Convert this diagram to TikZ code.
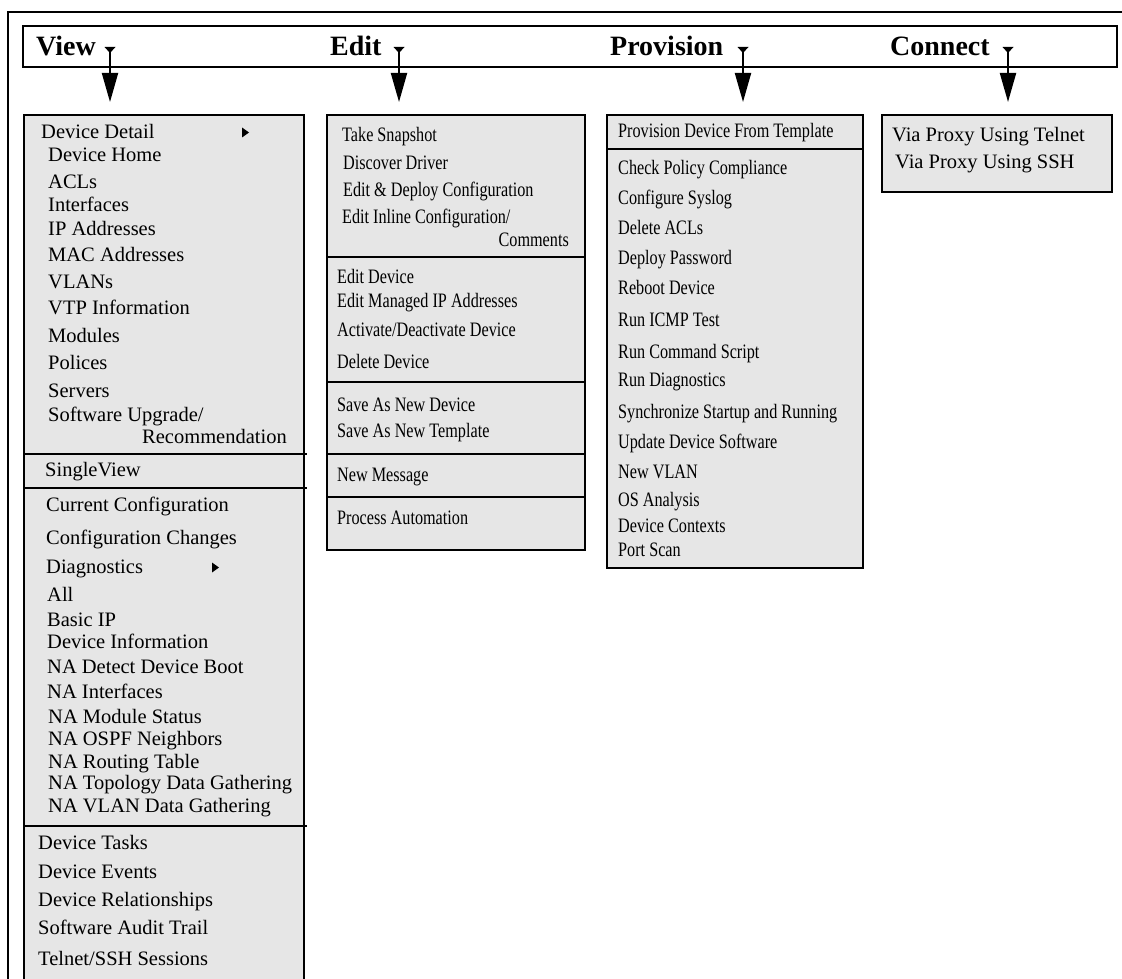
\documentclass[tikz,border=0pt]{standalone}
\usepackage{fontspec}
\setmainfont{Liberation Serif}
\newfontfamily\condfont{Liberation Serif}[FakeStretch=0.79]
\usetikzlibrary{arrows.meta}
\definecolor{menugray}{RGB}{230,230,230}
\begin{document}
\begin{tikzpicture}[x=1pt,y=-1pt,
  frame/.style={line width=2pt},
  bar/.style={draw,line width=2pt,anchor=north west,inner sep=0pt,outer sep=0pt},
  menu/.style={draw,line width=2pt,fill=menugray,anchor=north west,inner sep=0pt,outer sep=0pt},
  sepline/.style={line width=2pt},
  hdr/.style={anchor=base west,inner sep=0pt,font=\bfseries\fontsize{28}{30}\selectfont},
  item/.style={anchor=base west,inner sep=0pt,font=\fontsize{20.5}{24}\selectfont},
  itemr/.style={anchor=base east,inner sep=0pt,font=\fontsize{20.5}{24}\selectfont},
  citem/.style={anchor=base west,inner sep=0pt,font=\condfont\fontsize{20.5}{24}\selectfont},
  citemr/.style={anchor=base east,inner sep=0pt,font=\condfont\fontsize{20.5}{24}\selectfont},
  conn/.style={line width=2pt,-{Triangle[length=29pt,width=16pt]},shorten >=13pt},
  marker/.style={fill=black}
]
\useasboundingbox (0,0) rectangle (1122,979);
\clip (0,0) rectangle (1122,979);
\fill[white] (0,0) rectangle (1122,979);

% outer frame
\draw[frame] (8,1000) -- (8,12) -- (1140,12);

% menu bar
\node[bar,minimum width=1094pt,minimum height=41pt] (bar) at (23,26) {};
\node[hdr] (hview) at (36,56) {View};
\node[hdr] (hedit) at (330,56) {Edit};
\node[hdr] (hprov) at (610,56) {Provision};
\node[hdr] (hconn) at (890,56) {Connect};

% small drop-down markers
\coordinate (tv) at (110,52);
\coordinate (te) at (399,52);
\coordinate (tp) at (743,52);
\coordinate (tc) at (1008,52);
\foreach \c in {tv,te,tp,tc}{
  \fill[marker] (\c) ++(-5.5,-5) -- ++(11,0) -- ++(-5.5,6) -- cycle;
}

% menu boxes
\node[menu,minimum width=280pt,minimum height=880pt] (vbox) at (24,115) {};
\node[menu,minimum width=258pt,minimum height=435pt] (ebox) at (327,115) {};
\node[menu,minimum width=256pt,minimum height=453pt] (pbox) at (607,115) {};
\node[menu,minimum width=230pt,minimum height=77pt] (cbox) at (882,115) {};

% connectors
\draw[conn] (tv) -- (tv |- vbox.north);
\draw[conn] (te) -- (te |- ebox.north);
\draw[conn] (tp) -- (tp |- pbox.north);
\draw[conn] (tc) -- (tc |- cbox.north);

% separators
\foreach \yy in {454,488,826}{ \draw[sepline] (24,\yy) -- (307,\yy); }
\foreach \yy in {257,382,454,497}{ \draw[sepline] (327,\yy) -- (585,\yy); }
\draw[sepline] (607,149) -- (863,149);

% View items
\node[item] (v1) at (41,138.5) {Device Detail};
\fill[marker] (242,127.5) -- (242,137.5) -- (249,132.5) -- cycle;
\node[item] (v2) at (48,161.5) {Device Home};
\node[item] (v3) at (48,188.5) {ACLs};
\node[item] (v4) at (48,211.5) {Interfaces};
\node[item] (v5) at (48,235.5) {IP Addresses};
\node[item] (v6) at (48,261.5) {MAC Addresses};
\node[item] (v7) at (48,288.5) {VLANs};
\node[item] (v8) at (48,314.5) {VTP Information};
\node[item] (v9) at (48,342.5) {Modules};
\node[item] (v10) at (48,369.5) {Polices};
\node[item] (v11) at (48,397.5) {Servers};
\node[item] (v12) at (48,421.5) {Software Upgrade/};
\node[itemr] (v13) at (287,443.5) {Recommendation};
\node[item] (v14) at (45,476.5) {SingleView};
\node[item] (v15) at (46,511.5) {Current Configuration};
\node[item] (v16) at (46,544.5) {Configuration Changes};
\node[item] (v17) at (46,573.5) {Diagnostics};
\fill[marker] (212,562.5) -- (212,572.5) -- (219,567.5) -- cycle;
\node[item] (v18) at (47,601.5) {All};
\node[item] (v19) at (47,626.5) {Basic IP};
\node[item] (v20) at (47,648.5) {Device Information};
\node[item] (v21) at (47,673.5) {NA Detect Device Boot};
\node[item] (v22) at (47,698.5) {NA Interfaces};
\node[item] (v23) at (48,723.5) {NA Module Status};
\node[item] (v24) at (48,745.5) {NA OSPF Neighbors};
\node[item] (v25) at (48,768.5) {NA Routing Table};
\node[item] (v26) at (48,789.5) {NA Topology Data Gathering};
\node[item] (v27) at (48,812.5) {NA VLAN Data Gathering};
\node[item] (v28) at (38,849.5) {Device Tasks};
\node[item] (v29) at (38,878.5) {Device Events};
\node[item] (v30) at (38,906.5) {Device Relationships};
\node[item] (v31) at (38,934.5) {Software Audit Trail};
\node[item] (v32) at (38,965) {Telnet/SSH Sessions};

% Edit items
\node[citem] (e1) at (342,141.5) {Take Snapshot};
\node[citem] (e2) at (343,169.5) {Discover Driver};
\node[citem] (e3) at (343,196.5) {Edit \& Deploy Configuration};
\node[citem] (e4) at (342,223.5) {Edit Inline Configuration/};
\node[citemr] (e5) at (569,246.5) {Comments};
\node[citem] (e6) at (337,283.5) {Edit Device};
\node[citem] (e7) at (337,307.5) {Edit Managed IP Addresses};
\node[citem] (e8) at (337,336.5) {Activate/Deactivate Device};
\node[citem] (e9) at (337,368.5) {Delete Device};
\node[citem] (e10) at (337,411.5) {Save As New Device};
\node[citem] (e11) at (337,437.5) {Save As New Template};
\node[citem] (e12) at (337,481.5) {New Message};
\node[citem] (e13) at (337,524.5) {Process Automation};

% Provision items
\node[citem] (p1) at (618,137.5) {Provision Device From Template};
\node[citem] (p2) at (618,174.5) {Check Policy Compliance};
\node[citem] (p3) at (618,204.5) {Configure Syslog};
\node[citem] (p4) at (618,234.5) {Delete ACLs};
\node[citem] (p5) at (618,264.5) {Deploy Password};
\node[citem] (p6) at (618,294.5) {Reboot Device};
\node[citem] (p7) at (618,326.5) {Run ICMP Test};
\node[citem] (p8) at (618,358.5) {Run Command Script};
\node[citem] (p9) at (618,386.5) {Run Diagnostics};
\node[citem] (p10) at (618,418.5) {Synchronize Startup and Running};
\node[citem] (p11) at (618,448.5) {Update Device Software};
\node[citem] (p12) at (618,478.5) {New VLAN};
\node[citem] (p13) at (618,506.5) {OS Analysis};
\node[citem] (p14) at (618,532.5) {Device Contexts};
\node[citem] (p15) at (618,556.5) {Port Scan};

% Connect items
\node[item] (c1) at (892,141.5) {Via Proxy Using Telnet};
\node[item] (c2) at (895,168.5) {Via Proxy Using SSH};
\end{tikzpicture}
\end{document}
